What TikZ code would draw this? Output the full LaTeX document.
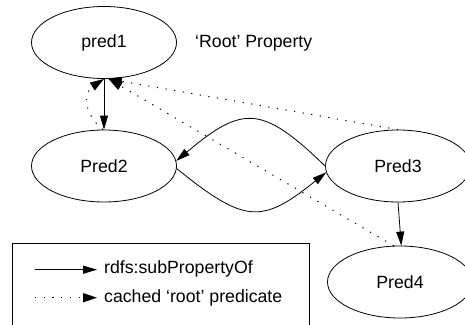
\documentclass[tikz,border=0pt]{standalone}
\usepackage{fontspec}
\setmainfont{Liberation Sans}
\usetikzlibrary{arrows.meta,shapes.geometric}
\begin{document}
\begin{tikzpicture}[x=1pt,y=-1pt,
  every node/.style={font=\fontsize{17.7}{20}\selectfont},
  pnode/.style={draw,ellipse,line width=0.8pt,minimum width=145pt,minimum height=72pt,inner sep=0pt},
  sub/.style={line width=0.8pt,-{Triangle[length=14pt,width=8pt]}},
  cached/.style={line width=1pt,dash pattern=on 1.2pt off 7.5pt,-{Triangle[length=14pt,width=9pt]}},
  lbl/.style={anchor=west,inner sep=0pt}]
\useasboundingbox (0,0) rectangle (465,324);
\clip (0,0) rectangle (465,324);
\node[pnode] (p1) at (104,42.5) {pred1};
\node[pnode] (p2) at (104,166) {Pred2};
\node[pnode] (p3) at (398,166) {Pred3};
\node[pnode] (p4) at (400,282) {Pred4};
\node[lbl] (root) at (195,43) {‘Root’ Property};
% edges
\draw[sub] (p1.-90) -- (p2.90);
\draw[sub] (p3.-90) -- (p4.88);
\draw[sub] (p3.180) .. controls (262,105) and (243,105) .. (p2.4);
\draw[sub] (p2.-2) .. controls (245,224) and (262,224) .. (p3.185);
\draw[cached] (p2.92) .. controls (82,112) and (84,92) .. (p1.-90);
\draw[cached] (p3.90) -- (p1.-84);
\draw[cached] (p4.100) -- (p1.-83);
% legend
\draw[line width=0.8pt] (12.7,330) -- (12.7,243.3) -- (309.3,243.3) -- (309.3,330);
\coordinate (a1) at (35,269.7);
\coordinate (a2) at (97,269.7);
\coordinate (b1) at (35,297.7);
\coordinate (b2) at (97,297.7);
\draw[sub] (a1) -- (a2);
\draw[cached] (b1) -- (b2);
\node[lbl] (l1) at (104,269) {rdfs:subPropertyOf};
\node[lbl] (l2) at (104,298) {cached ‘root’ predicate};
\end{tikzpicture}
\end{document}
